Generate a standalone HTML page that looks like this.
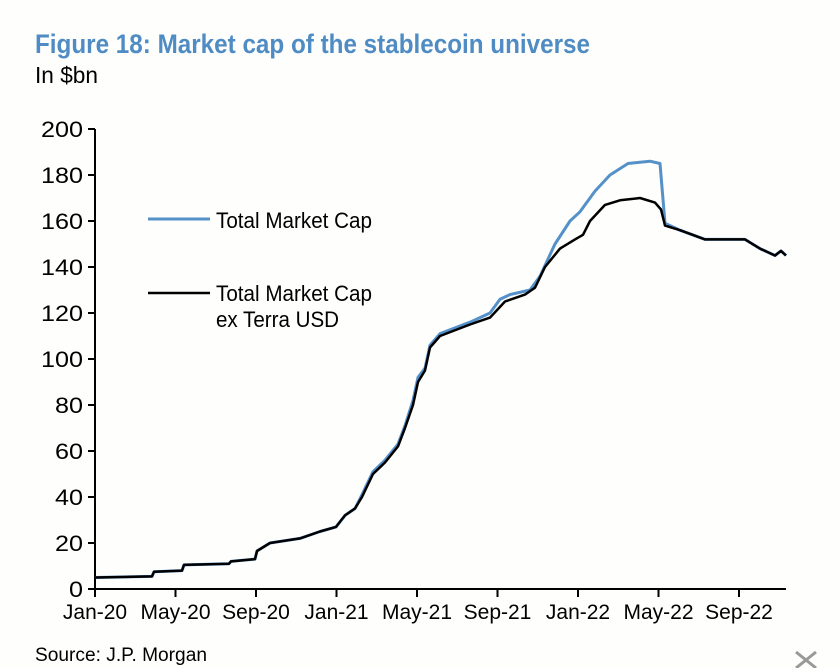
<!DOCTYPE html>
<html><head><meta charset="utf-8"><style>
body{margin:0;background:#fff;}
svg{display:block;font-family:"Liberation Sans",Arial,sans-serif;}
</style></head><body>
<svg id="s" width="840" height="668" viewBox="0 0 840 668">
<rect width="840" height="668" fill="#fefefc"/>
<text x="35" y="53" font-size="27" font-weight="bold" fill="#4f8cc4" textLength="555" lengthAdjust="spacingAndGlyphs">Figure 18: Market cap of the stablecoin universe</text>
<text x="35" y="83" font-size="23" fill="#000" textLength="63" lengthAdjust="spacingAndGlyphs">In $bn</text>
<g id="yt" font-size="22" text-anchor="end" fill="#000"></g>
<g id="xt" font-size="21" text-anchor="middle" fill="#000"></g>
<line x1="95" y1="129" x2="95" y2="589" stroke="#000" stroke-width="2"/>
<line x1="95" y1="589" x2="786" y2="589" stroke="#000" stroke-width="2"/>
<polyline id="blue" fill="none" stroke="#5591c9" stroke-width="3" stroke-linejoin="round"/>
<polyline id="black" fill="none" stroke="#000" stroke-width="2.5" stroke-linejoin="round"/>
<line x1="148" y1="219" x2="210" y2="219" stroke="#5591c9" stroke-width="3"/>
<line x1="148" y1="293" x2="210" y2="293" stroke="#000" stroke-width="2.5"/>
<text x="216" y="228" font-size="22" textLength="156" lengthAdjust="spacingAndGlyphs">Total Market Cap</text>
<text x="216" y="301" font-size="22" textLength="156" lengthAdjust="spacingAndGlyphs">Total Market Cap</text>
<text x="216" y="327" font-size="22" textLength="123" lengthAdjust="spacingAndGlyphs">ex Terra USD</text>
<text x="35" y="661" font-size="19" textLength="172" lengthAdjust="spacingAndGlyphs">Source: J.P. Morgan</text>
<g stroke="#999" stroke-width="3" fill="none"><path d="M796 652 L816 668 M816 652 L796 668"/></g>
</svg>
<script>
var Y=v=>589-v*2.3;
var yt=document.getElementById('yt'),xt=document.getElementById('xt'),s='';
for(var v=0;v<=200;v+=20){var y=Y(v);s+='<text x="83" y="'+(y+8)+'" textLength="'+(v>=100?42:v>0?28:14)+'" lengthAdjust="spacingAndGlyphs">'+v+'</text><line x1="88" y1="'+y+'" x2="95" y2="'+y+'" stroke="#000" stroke-width="2"/>';}
yt.innerHTML=s;s='';
var L=['Jan-20','May-20','Sep-20','Jan-21','May-21','Sep-21','Jan-22','May-22','Sep-22'];
L.forEach(function(l,i){var x=95+i*80.5;s+='<text x="'+x+'" y="619">'+l+'</text><line x1="'+x+'" y1="589" x2="'+x+'" y2="597" stroke="#000" stroke-width="2"/>';});
xt.innerHTML=s;
var blk=[[95,5],[152,5.5],[154,7.5],[182,8],[184,10.5],[229,11],[231,12],[255,13],[257,16.5],[270,20],[300,22],[320,25],[336,27],[345,32],[355,35],[362,40],[373,50],[385,55],[398,62],[405,70],[413,80],[418,90],[425,95],[430,105],[440,110],[470,115],[490,118],[505,125],[525,128],[535,131],[545,140],[560,148],[575,152],[583,154],[590,160],[605,167],[620,169],[640,170],[655,168],[661,165],[665,158],[680,156],[705,152],[745,152],[760,148],[775,145],[781,147],[786,145]];
var blu=[[95,5],[152,5.5],[154,7.5],[182,8],[184,10.5],[229,11],[231,12],[255,13],[257,16.5],[270,20],[300,22],[320,25],[336,27],[345,32],[355,35],[362,41],[373,51],[385,56],[398,63],[405,71],[413,82],[418,92],[425,96],[430,106],[440,111],[470,116],[490,120],[500,126],[510,128],[530,130],[540,136],[555,150],[570,160],[580,164],[590,170],[595,173],[610,180],[628,185],[650,186],[660,185],[665,159],[680,156],[705,152],[745,152],[760,148],[775,145],[781,147],[786,145]];
function pts(a){return a.map(p=>p[0]+','+Y(p[1]).toFixed(1)).join(' ');}
document.getElementById('blue').setAttribute('points',pts(blu));
document.getElementById('black').setAttribute('points',pts(blk));
</script>
</body></html>
